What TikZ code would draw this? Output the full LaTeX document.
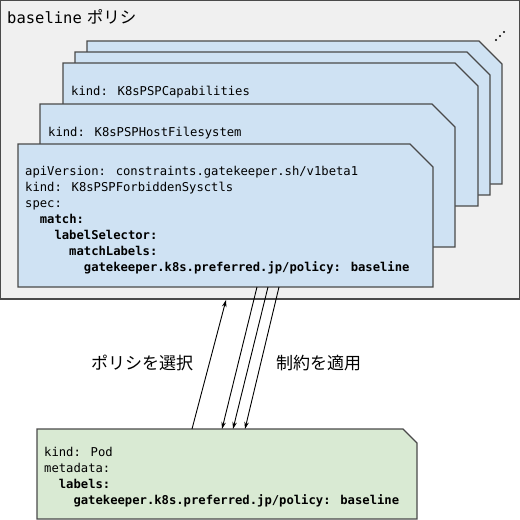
\documentclass[tikz,border=0pt]{standalone}
\usepackage{fontspec}
\newfontfamily\cjk{Noto Sans CJK JP}
\newfontfamily\mono{DejaVu Sans Mono}
\usetikzlibrary{arrows.meta}
\definecolor{bgray}{HTML}{F0F0F0}
\definecolor{cblue}{HTML}{CFE2F3}
\definecolor{cgreen}{HTML}{D9EAD3}
\definecolor{edge}{HTML}{4A4A4A}
\newcommand\cardat[3]{\path[#3] (#1,#2) -- ++(392,0) -- ++(23,23) -- ++(0,120) -- ++(-415,0) -- cycle;}
\newcommand\ind[1]{\hspace*{#1\dimexpr 7.34pt\relax}}
\begin{document}
\begin{tikzpicture}[x=1pt,y=-1pt,
  panel/.style={fill=bgray,draw=edge,line width=1.2pt},
  card/.style={fill=cblue,draw=edge,line width=1.2pt},
  podcard/.style={fill=cgreen,draw=edge,line width=1.2pt},
  code/.style={font=\fontsize{12.2}{16}\selectfont\mono, align=left, anchor=north west, inner sep=0pt},
  conn/.style={-{Stealth[length=7pt,width=4.5pt]}, line width=0.9pt, black},
  lbl/.style={font=\fontsize{17}{20}\selectfont\cjk, inner sep=0pt}]
\useasboundingbox (0,0) rectangle (520,520);
\path[panel] (0.6,0.6) rectangle (519.4,299);
\node[anchor=base west, inner sep=0pt] (title) at (7,23) {{\fontsize{15.5}{18}\selectfont\mono baseline}\hspace{5pt}{\fontsize{16.5}{18}\selectfont\cjk ポリシ}};
\fill[black] (496,40) circle (1.1pt) (500,36) circle (1.1pt) (504,32) circle (1.1pt);
\cardat{87}{41}{card}
\cardat{75}{52}{card}
\cardat{63}{63}{card}
\node[code] (capt) at (71,83) {\rule{0pt}{12pt}kind: K8sPSPCapabilities};
\cardat{40}{104}{card}
\node[code] (hostfs) at (48,124) {\rule{0pt}{12pt}kind: K8sPSPHostFilesystem};
\cardat{18}{144}{card}
\node[code] (sysctl) at (25,163) {\rule{0pt}{12pt}apiVersion: constraints.gatekeeper.sh/v1beta1\\
kind: K8sPSPForbiddenSysctls\\
spec:\\
\ind{2}\textbf{match:}\\
\ind{4}\textbf{labelSelector:}\\
\ind{6}\textbf{matchLabels:}\\
\ind{8}\textbf{gatekeeper.k8s.preferred.jp/policy: baseline}};
\path[podcard] (37,429) -- (403,429) -- (417,443) -- (417,519) -- (37,519) -- cycle;
\node[code] (pod) at (44,444) {\rule{0pt}{12pt}kind: Pod\\
metadata:\\
\ind{2}\textbf{labels:}\\
\ind{4}\textbf{gatekeeper.k8s.preferred.jp/policy: baseline}};
\coordinate (selS) at (192,429);
\coordinate (selE) at (226,300);
\coordinate (apA) at (257,287);
\coordinate (apB) at (268,287);
\coordinate (apC) at (279,287);
\coordinate (pdA) at (222,429);
\coordinate (pdB) at (233,429);
\coordinate (pdC) at (245,429);
\draw[conn] (selS) -- (selE);
\draw[conn] (apA) -- (pdA);
\draw[conn] (apB) -- (pdB);
\draw[conn] (apC) -- (pdC);
\node[lbl] (select) at (142,363) {ポリシを選択};
\node[lbl] (apply) at (318.5,363) {制約を適用};
\end{tikzpicture}
\end{document}
